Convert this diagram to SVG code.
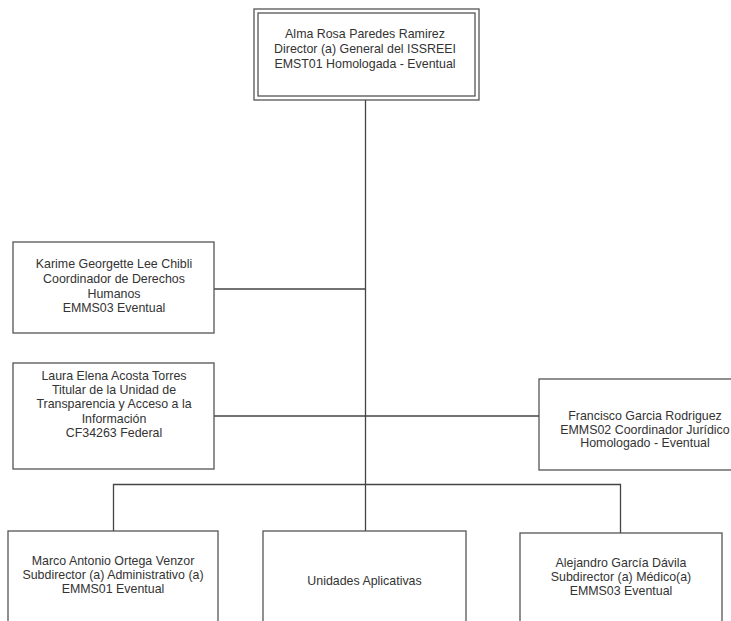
<svg xmlns="http://www.w3.org/2000/svg" width="731" height="621" viewBox="0 0 731 621">
<style>
.box{fill:#fff;stroke:#555;stroke-width:1.3}
.ln{fill:none;stroke:#444;stroke-width:1.3}
text{font-family:"Liberation Sans",Arial,sans-serif;font-size:12.4px;fill:#333;text-anchor:middle}
</style>
<rect width="731" height="621" fill="#fff"/>
<g id="connectors">
<path class="ln" d="M365.5 100V531"/>
<path class="ln" d="M214 289H365.5"/>
<path class="ln" d="M214 416H539"/>
<path class="ln" d="M113.5 531V484.5H620.5V533"/>
</g>
<g id="director">
<rect class="box" x="254" y="9" width="225" height="91"/>
<rect class="box" x="258" y="13" width="217" height="83"/>
<text x="365" y="37.5">Alma Rosa Paredes Ramirez</text>
<text x="365" y="52.5">Director (a) General del ISSREEI</text>
<text x="365" y="67.5">EMST01 Homologada - Eventual</text>
</g>
<g id="karime">
<rect class="box" x="13" y="242" width="201" height="91"/>
<text x="114" y="267.5">Karime Georgette Lee Chibli</text>
<text x="114" y="282.5">Coordinador de Derechos</text>
<text x="114" y="297.5">Humanos</text>
<text x="114" y="311.5">EMMS03 Eventual</text>
</g>
<g id="laura">
<rect class="box" x="13" y="363" width="201" height="106"/>
<text x="114" y="379.5">Laura Elena Acosta Torres</text>
<text x="114" y="393.5">Titular de la Unidad de</text>
<text x="114" y="407.5">Transparencia y Acceso a la</text>
<text x="114" y="422.5">Información</text>
<text x="114" y="436.5">CF34263 Federal</text>
</g>
<g id="francisco">
<rect class="box" x="539" y="379" width="212" height="91"/>
<text x="645" y="419.5">Francisco Garcia Rodriguez</text>
<text x="645" y="433.5">EMMS02 Coordinador Jurídico</text>
<text x="645" y="446.5">Homologado - Eventual</text>
</g>
<g id="marco">
<rect class="box" x="8" y="531" width="210" height="110"/>
<text x="113" y="564.5">Marco Antonio Ortega Venzor</text>
<text x="113" y="578.5">Subdirector (a) Administrativo (a)</text>
<text x="113" y="592.5">EMMS01 Eventual</text>
</g>
<g id="unidades">
<rect class="box" x="263" y="531" width="203" height="110"/>
<text x="364.5" y="584.5">Unidades Aplicativas</text>
</g>
<g id="alejandro">
<rect class="box" x="520" y="533" width="202" height="110"/>
<text x="621" y="566.5">Alejandro García Dávila</text>
<text x="621" y="580.5">Subdirector (a) Médico(a)</text>
<text x="621" y="594.5">EMMS03  Eventual</text>
</g>
</svg>
